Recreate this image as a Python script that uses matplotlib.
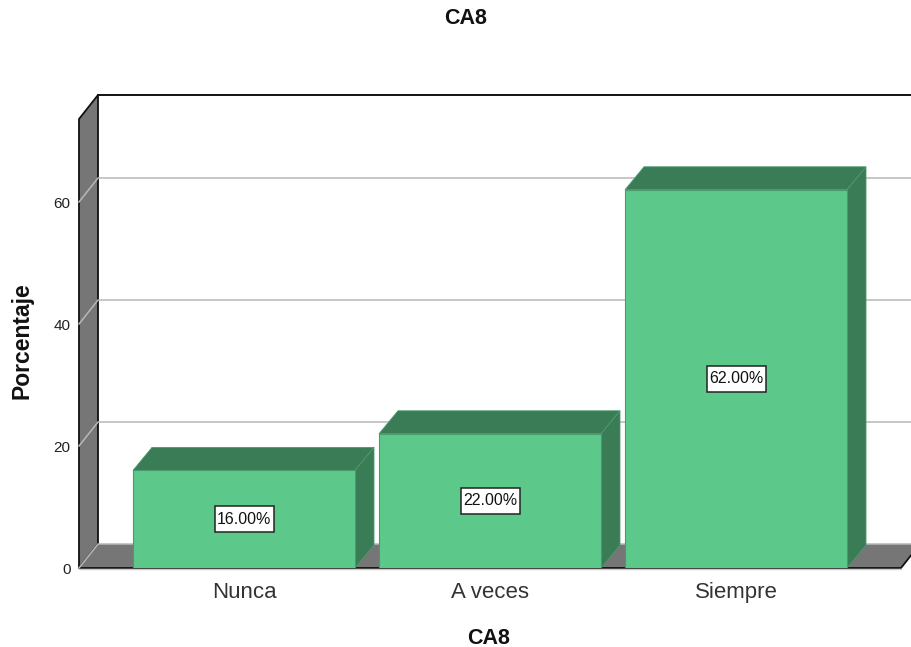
#!/usr/bin/env python3
"""Bar chart of CA8 percentages with a pseudo-3D box and bars."""
import matplotlib

matplotlib.use("Agg")
import matplotlib.pyplot as plt
from matplotlib.patches import Polygon, Rectangle

plt.rcParams["font.family"] = ["Liberation Sans", "DejaVu Sans"]

categories = ["Nunca", "A veces", "Siempre"]
values = [16.00, 22.00, 62.00]
yticks = [0, 20, 40, 60]

W, H = 911, 647
FRONT = "#5CC98B"
DARK = "#3A7C55"
EDGE = "#4A9A6C"
WALL = "#767676"
GRID = "#B8B8B8"

fig = plt.figure(figsize=(W / 100, H / 100), dpi=100)
# front plane of the box, in pixels
left, right, bottom, top = 79, 901, 568, 119
ax = fig.add_axes([left / W, 1 - bottom / H, (right - left) / W, (bottom - top) / H])

px_x = 246  # pixels per category
px_y = 6.1  # pixels per percent
ymax = (bottom - top) / px_y
x0 = -(244 - left) / px_x
x1 = x0 + (right - left) / px_x
ax.set_xlim(x0, x1)
ax.set_ylim(0, ymax)
for s in ax.spines.values():
    s.set_visible(False)
ax.patch.set_visible(False)

# depth offset of the box in data units
dx = 19 / px_x
dy = 24 / px_y
bar_dy = 23 / px_y
bar_w = 222 / px_x


def face(pts, fc, ec="none", lw=0.0, z=1):
    ax.add_patch(Polygon(pts, closed=True, fc=fc, ec=ec, lw=lw, zorder=z, clip_on=False, joinstyle="miter"))


# left wall and floor
face([(x0, 0), (x0 + dx, dy), (x0 + dx, ymax + dy), (x0, ymax)], WALL, "#111111", 1.3)
face([(x0, 0), (x1, 0), (x1 + dx, dy), (x0 + dx, dy)], WALL, z=1)
ax.plot([x0, x1, x1 + dx], [0, 0, dy], color="#111111", lw=1.3, zorder=1.5, clip_on=False)
ax.plot([x0 + dx, x1 + dx], [ymax + dy, ymax + dy], color="#111111", lw=1.4, zorder=1.5, clip_on=False)
ax.plot([x0, x1], [-1 / px_y, -1 / px_y], color="#CCCCCC", lw=1.0, zorder=4, clip_on=False)

# gridlines run up the wall and along the back
for t in yticks:
    ax.plot([x0, x0 + dx, x1 + dx], [t, t + dy, t + dy], color=GRID, lw=1.1, zorder=1.6, clip_on=False)

xs = range(len(categories))
ax.bar(xs, values, width=bar_w, color=FRONT, edgecolor=EDGE, linewidth=0.8, zorder=3)
for i, v in zip(xs, values):
    l, r = i - bar_w / 2, i + bar_w / 2
    face([(l, v), (r, v), (r + dx, v + bar_dy), (l + dx, v + bar_dy)], DARK, EDGE, 0.6, z=2.5)
    face([(r, 0), (r + dx, bar_dy), (r + dx, v + bar_dy), (r, v)], DARK, EDGE, 0.6, z=2.5)
    # label box is wider than tall compared with the text, so it is a separate patch
    bw, bh = 59 / px_x, 26 / px_y
    ax.add_patch(Rectangle((i - bw / 2, v / 2 - bh / 2), bw, bh, fc="white", ec="#222222", lw=1.1, zorder=5))
    ax.text(i, v / 2, f"{v:.2f}%", ha="center", va="center", fontsize=11.5, color="#111111", zorder=6)

ax.set_xticks(list(xs), categories, fontsize=16, color="#333333")
ax.set_yticks(yticks, [str(t) for t in yticks], fontsize=11, color="#222222")
ax.tick_params(axis="x", length=0, pad=10)
ax.tick_params(axis="y", length=0, pad=6)

fig.text(466 / W, 1 - 18 / H, "CA8", ha="center", va="center", fontsize=15.5, fontweight="bold", color="#111111")
fig.text(489 / W, 1 - 638 / H, "CA8", ha="center", va="center", fontsize=15.5, fontweight="bold", color="#111111")
fig.text(22 / W, 1 - 341 / H, "Porcentaje", ha="center", va="center", rotation=90, fontsize=16.5,
         fontweight="bold", color="#111111")

fig.savefig("out.png", dpi=100)
